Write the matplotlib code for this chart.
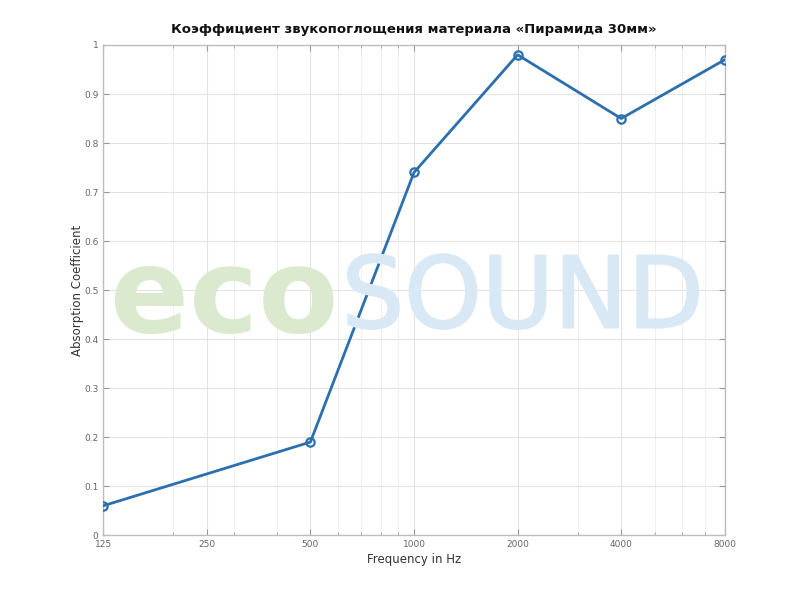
import numpy as np
import matplotlib
matplotlib.use('Agg')
import matplotlib.pyplot as plt
import matplotlib.patheffects as pe
from matplotlib.ticker import FixedLocator, NullFormatter

freqs = [125, 500, 1000, 2000, 4000, 8000]
alpha = [0.06, 0.19, 0.74, 0.98, 0.85, 0.97]
xticks = [125, 250, 500, 1000, 2000, 4000, 8000]
yticks = [0, 0.1, 0.2, 0.3, 0.4, 0.5, 0.6, 0.7, 0.8, 0.9, 1]
minor_x = [200, 300, 400, 600, 700, 800, 900, 3000, 5000, 6000, 7000]

title = 'Коэффициент звукопоглощения материала «Пирамида 30мм»'

fig = plt.figure(figsize=(8, 6), dpi=100)
ax = fig.add_axes([0.129, 0.108, 0.777, 0.817])

# watermark behind the plot
fig.text(0.137, 0.5, 'eco', fontsize=84, fontweight='bold', color='#dbe9cf',
         ha='left', va='center', zorder=0)
fig.text(0.427, 0.5, 'SOUND', fontsize=71, color='#d8e8f4',
         ha='left', va='center', zorder=0,
         path_effects=[pe.withStroke(linewidth=1.5, foreground='#d8e8f4')])
ax.set_facecolor('none')

ax.plot(freqs, alpha, color='#2b6fae', linewidth=2, marker='o', markersize=6,
        markerfacecolor='none', markeredgewidth=1.6, zorder=3)

ax.set_xscale('log')
ax.set_xlim(125, 8000)
ax.set_ylim(0, 1)
ax.xaxis.set_major_locator(FixedLocator(xticks))
ax.set_xticklabels([str(v) for v in xticks])
ax.xaxis.set_minor_locator(FixedLocator(minor_x))
ax.xaxis.set_minor_formatter(NullFormatter())
ax.set_yticks(yticks)
ax.set_yticklabels(['0' if v == 0 else ('1' if v == 1 else f'{v:g}') for v in yticks])

ax.grid(True, which='major', color='#e3e3e3', linewidth=0.8)
ax.grid(True, which='minor', color='#ececec', linewidth=0.6)
ax.tick_params(which='both', direction='in', top=True, right=True,
               colors='#999999', labelcolor='#666666', labelsize=6.5)
ax.tick_params(which='major', length=4)
ax.tick_params(which='minor', length=2.5)
for s in ax.spines.values():
    s.set_color('#bdbdbd')
    s.set_linewidth(1.0)

ax.set_xlabel('Frequency in Hz', fontsize=8.5, color='#333333', labelpad=3)
ax.set_ylabel('Absorption Coefficient', fontsize=8.5, color='#333333', labelpad=0)
ax.set_title(title, fontsize=9.5, fontweight='bold', color='#111111', pad=9)

fig.savefig('out.png', dpi=100)
